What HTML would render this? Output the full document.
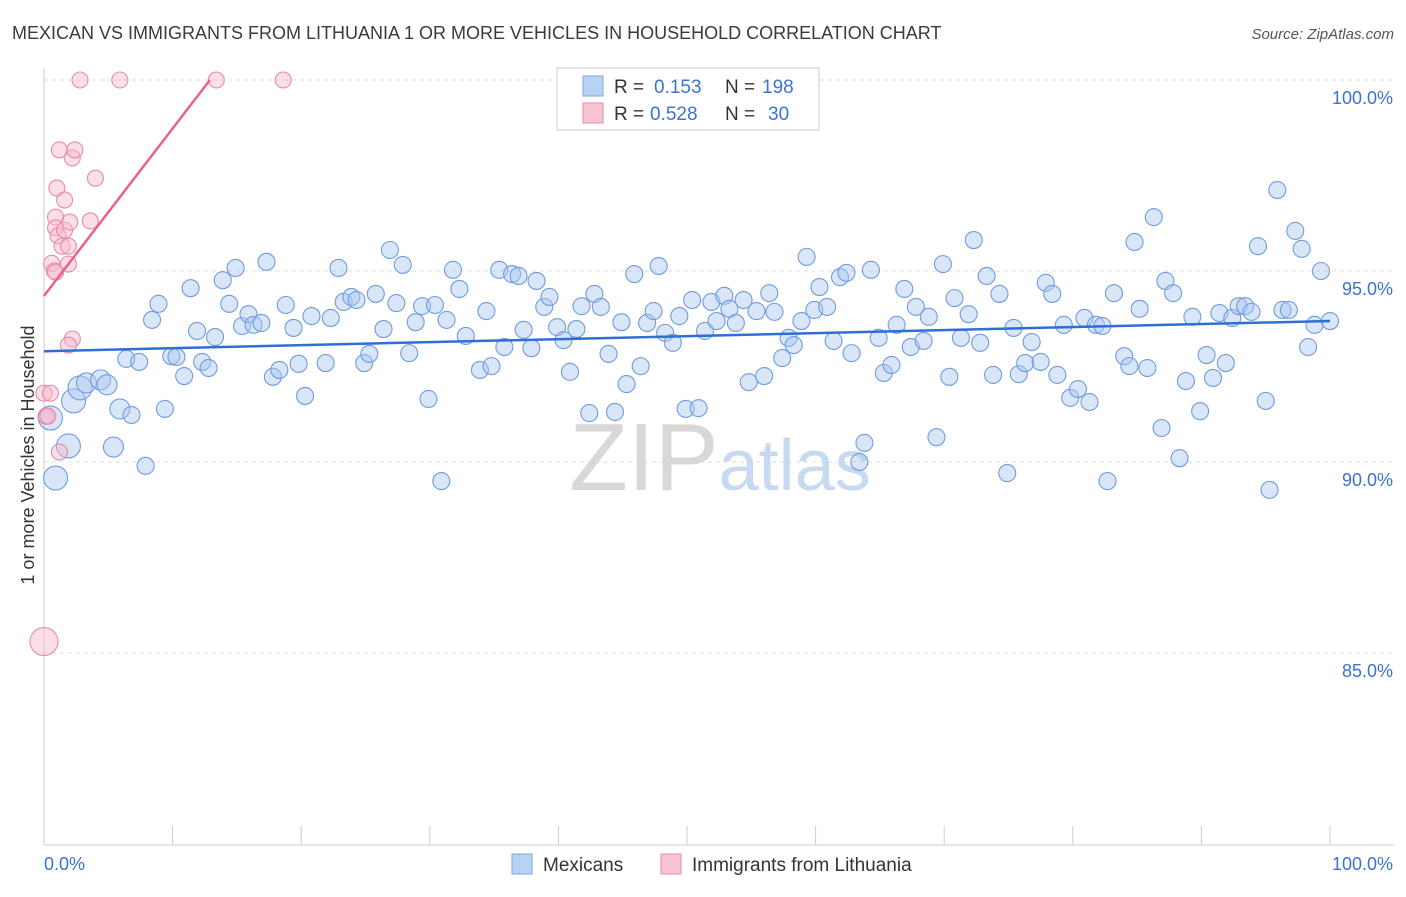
<!DOCTYPE html>
<html><head><meta charset="utf-8">
<style>
body{margin:0;background:#fff;font-family:"Liberation Sans",sans-serif;}
svg text{font-family:"Liberation Sans",sans-serif;}
</style></head>
<body>
<svg id="chart" width="1406" height="892" xmlns="http://www.w3.org/2000/svg">
<text x="12" y="39" font-size="18" fill="#3a3a3a">MEXICAN VS IMMIGRANTS FROM LITHUANIA 1 OR MORE VEHICLES IN HOUSEHOLD CORRELATION CHART</text>
<text x="1394" y="39" font-size="15" fill="#555" text-anchor="end" font-style="italic">Source: ZipAtlas.com</text>
<text x="0" y="0" transform="translate(34,455) rotate(-90)" font-size="18" fill="#333" text-anchor="middle">1 or more Vehicles in Household</text>
<g id="grid"></g>
<text x="720" y="490" font-size="96" fill="#d8d8d8" text-anchor="middle" font-family="Liberation Serif">ZIP<tspan fill="#c8daf2" font-family="Liberation Sans" font-size="72">atlas</tspan></text>
<g id="pts"></g>
<g id="lines"></g>
<g>
<rect x="557" y="68" width="262" height="62" fill="#fff" stroke="#ccc"/>
<rect x="583" y="76" width="20" height="20" fill="#b8d2f5" stroke="#7fa6e0"/>
<text x="614" y="93" font-size="19" fill="#333">R =</text>
<text x="654" y="93" font-size="19" fill="#3b73d1">0.153</text>
<text x="725" y="93" font-size="19" fill="#333">N =</text>
<text x="762" y="93" font-size="19" fill="#3b73d1">198</text>
<rect x="583" y="103" width="20" height="20" fill="#f9c4d4" stroke="#e88aa8"/>
<text x="614" y="120" font-size="19" fill="#333">R =</text>
<text x="650" y="120" font-size="19" fill="#3b73d1">0.528</text>
<text x="725" y="120" font-size="19" fill="#333">N =</text>
<text x="768" y="120" font-size="19" fill="#3b73d1">30</text>
</g>
<g>
<rect x="512" y="854" width="20" height="20" fill="#b8d2f5" stroke="#7fa6e0"/>
<text x="543" y="871" font-size="19" fill="#333">Mexicans</text>
<rect x="661" y="854" width="20" height="20" fill="#f9c4d4" stroke="#e88aa8"/>
<text x="692" y="871" font-size="19" fill="#333">Immigrants from Lithuania</text>
</g>
</svg>
<script>
const yTicks=[100,95,90,85];
const yTickLabels=["100.0%","95.0%","90.0%","85.0%"];
const xTickLabels=["0.0%","100.0%"];
const blueX=[0.5,0.9,1.9,2.3,2.8,3.3,4.4,4.9,5.4,5.9,6.8,7.9,6.4,7.4,8.4,8.9,9.4,9.9,10.3,10.9,11.4,11.9,12.3,12.8,13.3,13.9,14.4,14.9,15.4,15.9,16.3,16.9,17.3,17.8,18.3,18.8,19.4,19.8,20.3,20.8,21.9,22.3,22.9,23.3,23.9,24.3,24.9,25.3,25.8,26.4,26.9,27.4,27.9,28.4,28.9,29.4,29.9,30.4,30.9,31.3,31.8,32.3,32.8,33.9,34.4,34.8,35.4,35.8,36.4,36.9,37.3,37.9,38.3,38.9,39.3,39.9,40.4,40.9,41.4,41.8,42.4,42.8,43.3,43.9,44.4,44.9,45.3,45.9,46.4,46.9,47.4,47.8,48.3,48.9,49.4,49.9,50.4,50.9,51.4,51.9,52.3,52.9,53.3,53.8,54.4,54.8,55.4,56.0,56.4,56.8,57.4,57.9,58.3,58.9,59.3,59.9,60.3,60.9,61.4,61.9,62.4,62.8,63.4,63.8,64.3,64.9,65.3,65.9,66.3,66.9,67.4,67.8,68.4,68.8,69.4,69.9,70.4,70.8,71.3,71.9,72.3,72.8,73.3,73.8,74.3,74.9,75.4,75.8,76.3,76.8,77.5,77.9,78.4,78.8,79.3,79.8,80.4,80.9,81.3,81.8,82.3,82.7,83.2,84.0,84.4,84.8,85.2,85.8,86.3,86.9,87.2,87.8,88.3,88.8,89.3,89.9,90.4,90.9,91.4,91.9,92.4,92.9,93.4,93.9,94.4,95.0,95.3,95.9,96.3,96.8,97.3,97.8,98.3,98.8,99.3,100];
const blueY=[91.15,89.58,90.42,91.6,91.94,92.07,92.15,92.02,90.39,91.39,91.23,89.9,92.7,92.62,93.72,94.14,91.39,92.77,92.75,92.25,94.55,93.43,92.62,92.46,93.27,94.76,94.14,95.08,93.56,93.87,93.59,93.64,95.24,92.23,92.41,94.11,93.51,92.57,91.73,93.82,92.59,93.77,95.08,94.19,94.32,94.24,92.59,92.83,94.4,93.48,95.55,94.16,95.16,92.85,93.66,94.08,91.65,94.11,89.5,93.72,95.03,94.53,93.3,92.41,93.95,92.51,95.03,93.01,94.92,94.87,93.46,92.98,94.74,94.06,94.32,93.53,93.19,92.36,93.48,94.08,91.28,94.4,94.06,92.83,91.31,93.66,92.04,94.92,92.51,93.64,93.95,95.13,93.38,93.12,93.82,91.39,94.24,91.41,93.43,94.19,93.69,94.35,94.01,93.64,94.24,92.09,93.95,92.25,94.42,93.93,92.72,93.25,93.06,93.69,95.37,93.98,94.58,94.06,93.17,94.84,94.95,92.85,90.0,90.5,95.03,93.25,92.33,92.54,93.59,94.53,93.01,94.06,93.17,93.8,90.65,95.18,92.23,94.29,93.25,93.87,95.81,93.12,94.87,92.28,94.4,89.71,93.51,92.3,92.59,93.14,92.62,94.69,94.4,92.28,93.59,91.68,91.91,93.77,91.57,93.59,93.56,89.5,94.42,92.77,92.51,95.76,94.01,92.46,96.41,90.89,94.74,94.42,90.1,92.12,93.8,91.33,92.8,92.2,93.9,92.59,93.77,94.08,94.08,93.93,95.65,91.6,89.27,97.12,93.98,93.98,96.05,95.58,93.01,93.59,95.0,93.69];
const pinkX=[0,0.15,0.5,0.6,0.8,0.9,0.9,1.0,1.1,1.2,1.4,1.6,1.6,1.9,1.9,2.0,2.2,2.4,2.8,3.6,4.0,5.9,13.4,18.6,0,2.2,1.9,1.2,0.9,0.3];
const pinkY=[91.8,91.2,91.8,95.2,95.0,96.41,96.13,97.17,95.92,98.17,95.65,96.86,96.07,95.18,95.65,96.28,97.96,98.17,100,96.31,97.43,100,100,100,85.3,93.22,93.06,90.26,94.97,91.2];
const blueTrend=[[0,92.9],[100,93.69]];
const pinkTrend=[[0,94.35],[12.9,100]];
const X0=44,X1=1330,Ytop=80,pxPer=38.2;
const sx=v=>X0+(X1-X0)*v/100;
const sy=v=>Ytop+(100-v)*pxPer;
const NS="http://www.w3.org/2000/svg";
function mk(tag,attrs,parent){const e=document.createElementNS(NS,tag);for(const k in attrs)e.setAttribute(k,attrs[k]);parent.appendChild(e);return e;}
const grid=document.getElementById('grid');
yTicks.forEach((t,i)=>{
 const l=mk('line',{x1:X0,x2:1394,y1:sy(t),y2:sy(t),stroke:'#ddd','stroke-dasharray':'4,4'},grid);
 
 
 const tx=mk('text',{x:1393,y:sy(t)+24,'font-size':18,fill:'#3b73d1','text-anchor':'end'},grid);
 tx.textContent=yTickLabels[i];
 
 
});
const ax=mk('line',{x1:X0,x2:X0,y1:68,y2:845,stroke:'#ccc'},grid);


const bx=mk('line',{x1:X0,x2:1394,y1:845,y2:845,stroke:'#ccc'},grid);


for(let i=0;i<=10;i++){
 const t=mk('line',{x1:sx(i*10),x2:sx(i*10),y1:826,y2:845,stroke:'#ccc'},grid);
 
 
}
[[0,'start',44],[100,'end',1393]].forEach((d,i)=>{
 const tx=mk('text',{x:d[2],y:870,'font-size':18,fill:'#3b73d1','text-anchor':d[1]},grid);
 tx.textContent=xTickLabels[i];
 
 
});
const pts=document.getElementById('pts');
blueX.forEach((x,i)=>{
 const r=x<3?12:(x<6?10:8.5);
 const c=mk('circle',{cx:sx(x),cy:sy(blueY[i]),r:r,fill:'rgba(170,200,240,0.45)',stroke:'#6f9be0','stroke-width':1.1},pts);
 
 
});
pinkX.forEach((x,i)=>{
 const r=pinkY[i]<86?14:8;
 const c=mk('circle',{cx:sx(x),cy:sy(pinkY[i]),r:r,fill:'rgba(247,185,205,0.45)',stroke:'#e88aa8','stroke-width':1.1},pts);
 
 
});
const lines=document.getElementById('lines');
const bl=mk('line',{x1:sx(blueTrend[0][0]),y1:sy(blueTrend[0][1]),x2:sx(blueTrend[1][0]),y2:sy(blueTrend[1][1]),stroke:'#2f6fd4','stroke-width':2.5},lines);


const pl=mk('line',{x1:sx(pinkTrend[0][0]),y1:sy(pinkTrend[0][1]),x2:sx(pinkTrend[1][0]),y2:sy(pinkTrend[1][1]),stroke:'#e8628f','stroke-width':2.5},lines);


</script>
</body></html>
